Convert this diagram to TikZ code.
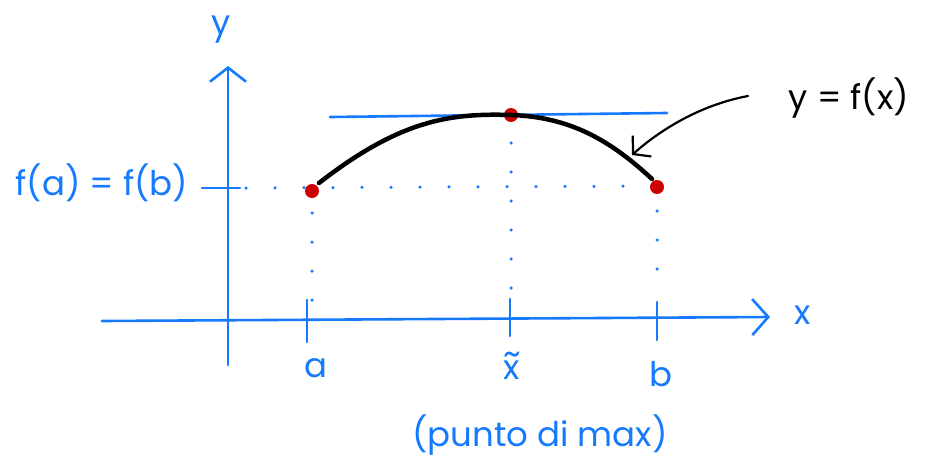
\documentclass[tikz,border=0pt]{standalone}
\usepackage{fontspec}
\setmainfont{Poppins}
\usetikzlibrary{arrows.meta}
\definecolor{pen}{RGB}{22,122,255}
\definecolor{dotred}{RGB}{205,0,0}
\begin{document}
\begin{tikzpicture}[x=1pt,y=-1pt,
  axis/.style={pen,line width=2.6pt,line cap=round},
  dotline/.style={pen,line width=3.5pt,line cap=round,dash pattern=on 0pt off 29pt},
  lbl/.style={pen,font=\fontsize{34}{34}\selectfont},
  pt/.style={circle,fill=dotred,inner sep=0pt,minimum size=14pt}]
\useasboundingbox (0,0) rectangle (929,466);
% axes
\coordinate (yb) at (228,365);
\coordinate (yt) at (228,66);
\coordinate (xl) at (102,321);
\coordinate (xr) at (770,317);
\draw[axis,-{Straight Barb[length=14pt,width=36pt,line width=2.6pt]}] (yb) -- (yt);
\draw[axis,-{Straight Barb[length=16pt,width=36pt,line width=2.6pt]}] (xl) -- (xr);
\node[lbl] (ylab) at (221,30) {y};
\node[lbl] (xlab) at (803,315) {x};
% points
\node[pt] (A) at (312,191) {};
\node[pt] (M) at (511,115) {};
\node[pt] (B) at (657,187) {};
% y tick and label
\coordinate (t1) at (202,188);
\coordinate (t2) at (240,188);
\draw[axis] (t1) -- (t2);
\node[lbl] (fab) at (102,183) {f(a) = f(b)};
% dotted guides
\coordinate (d0) at (246,188);
\coordinate (d1) at (646,186);
\draw[dotline] (d0) -- (d1);
\coordinate (aA) at (312,213);
\coordinate (aB) at (312,300);
\draw[dotline] (aA) -- (aB);
\coordinate (mA) at (511,143);
\coordinate (mB) at (511,290);
\draw[dotline] (mA) -- (mB);
\coordinate (bA) at (657,211);
\coordinate (bB) at (657,295);
\draw[dotline] (bA) -- (bB);
% x ticks
\coordinate (ta1) at (307,300); \coordinate (ta2) at (307,342);
\coordinate (tm1) at (510,299); \coordinate (tm2) at (510,336);
\coordinate (tb1) at (657,302); \coordinate (tb2) at (657,340);
\draw[axis] (ta1) -- (ta2);
\draw[axis] (tm1) -- (tm2);
\draw[axis] (tb1) -- (tb2);
\node[lbl] (alab) at (316,368) {a};
\node[lbl] (xtlab) at (512,370) {\ooalign{x\cr\hidewidth\raisebox{0.42em}{\char"7E}\hidewidth\cr}};
\node[lbl] (blab) at (661,374) {b};
\node[lbl] (note) at (540,435) {(punto di max)};
% tangent
\coordinate (tg1) at (330,117);
\coordinate (tg2) at (667,113);
\draw[pen,line width=2.6pt,line cap=round] (tg1) -- (tg2);
% curve
\coordinate (c1) at (319,183);
\coordinate (c2) at (652,179);
\draw[black,line width=4.5pt,line cap=round] (c1) .. controls (400,120) and (450,113) .. (M.center) .. controls (570,117) and (610,140) .. (c2);
% annotation
\node[black,font=\fontsize{34}{34}\selectfont] (fx) at (849,98) {y = f(x)};
\coordinate (arrS) at (748,96);
\coordinate (arrE) at (632,155);
\draw[black,line width=2.2pt,line cap=round,-{Straight Barb[length=12pt,width=28pt,line width=2.2pt]}] (arrS) .. controls (700,105) and (660,130) .. (arrE);
\end{tikzpicture}
\end{document}
